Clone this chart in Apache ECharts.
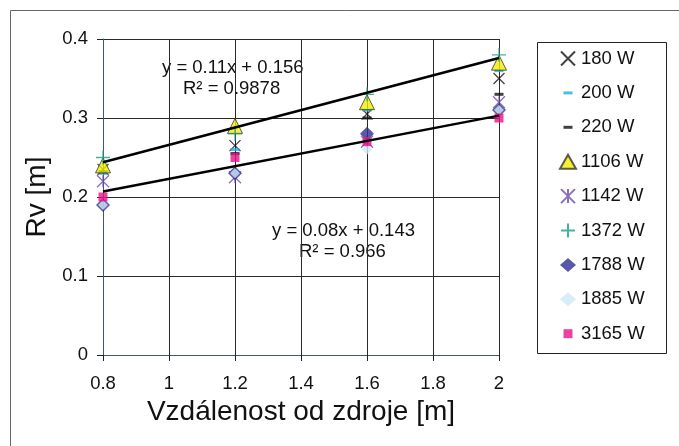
<!DOCTYPE html>
<html>
<head>
<meta charset="utf-8">
<script src="https://cdn.jsdelivr.net/npm/echarts@6/dist/echarts.min.js"></script>
<style>
  html, body { margin: 0; padding: 0; background: #fff; }
  #chart { width: 679px; height: 446px; }
</style>
</head>
<body>
<div id="chart"></div>
<script>
// distances [m]
const xValues = [0.8, 1.2, 1.6, 2]

// Rv [m] per power setting
const w180 = [0.235, 0.265, 0.305, 0.35]
const w200 = [0.23, 0.26, 0.31, 0.36]
const w220 = [0.232, 0.255, 0.30, 0.33]
const w1106 = [0.24, 0.29, 0.32, 0.37]
const w1142 = [0.22, 0.225, 0.27, 0.32]
const w1372 = [0.25, 0.28, 0.33, 0.38]
const w1788 = [0.19, 0.23, 0.28, 0.31]
const w1885 = [0.19, 0.23, 0.26, 0.31]
const w3165 = [0.20, 0.25, 0.27, 0.30]

// trendline end points (from the fitted equations)
const trendX = [0.8, 2]
const trendUpper = [0.244, 0.376]
const trendLower = [0.207, 0.303]

const xTicks = ['0.8', '1', '1.2', '1.4', '1.6', '1.8', '2']
const yTicks = ['0', '0.1', '0.2', '0.3', '0.4']

const font = "'Liberation Sans', Arial, sans-serif"
// small shapes inside a bigger box so the legend icon keeps their size
const dashPath = 'path://M0,0M16,14M3.5,5.5L12.5,5.5L12.5,8.5L3.5,8.5Z'
const squarePath = 'path://M0,0M14,14M2.5,2.5L11.5,2.5L11.5,11.5L2.5,11.5Z'

function pts (ys) {
  return xValues.map((x, i) => [x, ys[i]])
}

function lineSym (name, data, path, color, size, width) {
  return {
    name: name,
    type: 'scatter',
    data: pts(data),
    symbol: path,
    symbolSize: size,
    itemStyle: {color: 'transparent', borderColor: color, borderWidth: width}
  }
}

const chart = echarts.init(document.getElementById('chart'))

const option = {
  animation: false,
  grid: {left: 103, right: 180, top: 39, bottom: 91},
  xAxis: {
    type: 'value',
    min: 0.8,
    max: 2,
    interval: 0.2,
    name: 'Vzdálenost od zdroje [m]',
    nameLocation: 'middle',
    nameGap: 40,
    nameTextStyle: {fontFamily: font, fontSize: 28, color: '#111'},
    axisLine: {show: true, lineStyle: {color: '#3e5b66', width: 1}},
    axisTick: {show: true, length: 6, lineStyle: {color: '#222'}},
    axisLabel: {
      fontFamily: font, fontSize: 18.5, color: '#111', margin: 19,
      formatter: v => xTicks[Math.round((v - 0.8) / 0.2)]
    },
    splitLine: {show: true, lineStyle: {color: '#2a2a2a', width: 1}}
  },
  yAxis: {
    type: 'value',
    min: 0,
    max: 0.4,
    interval: 0.1,
    name: 'Rv [m]',
    nameLocation: 'middle',
    nameGap: 43,
    nameTextStyle: {fontFamily: font, fontSize: 28, color: '#111'},
    axisLine: {show: true, lineStyle: {color: '#3e5b66', width: 1}},
    axisTick: {show: true, length: 6, lineStyle: {color: '#222'}},
    axisLabel: {
      fontFamily: font, fontSize: 18.5, color: '#111', margin: 15,
      formatter: v => yTicks[Math.round(v / 0.1)]
    },
    splitLine: {show: true, lineStyle: {color: '#2a2a2a', width: 1}}
  },
  legend: {
    orient: 'vertical',
    left: 559,
    top: 49,
    padding: 0,
    itemWidth: 16,
    itemHeight: 14,
    itemGap: 15.4,
    textStyle: {fontFamily: font, fontSize: 18.5, color: '#111', lineHeight: 18},
    data: ['180 W', '200 W', '220 W', '1106 W', '1142 W', '1372 W', '1788 W', '1885 W', '3165 W']
  },
  graphic: [
    {type: 'rect', shape: {x: 10.5, y: 10.5, width: 720, height: 500}, style: {fill: 'none', stroke: '#666', lineWidth: 1}, silent: true},
    {type: 'rect', shape: {x: 537.5, y: 42.5, width: 129, height: 311}, style: {fill: '#fff', stroke: '#222', lineWidth: 1}, z: -1, silent: true},
    {type: 'text', left: 162, top: 58, style: {text: 'y = 0.11x + 0.156', font: '18.5px ' + font, fill: '#111'}},
    {type: 'text', left: 183, top: 79, style: {text: 'R² = 0.9878', font: '18.5px ' + font, fill: '#111'}},
    {type: 'text', left: 272, top: 221, style: {text: 'y = 0.08x + 0.143', font: '18.5px ' + font, fill: '#111'}},
    {type: 'text', left: 299, top: 242, style: {text: 'R² = 0.966', font: '18.5px ' + font, fill: '#111'}}
  ],
  series: [
    {
      name: 'trend1', type: 'line', data: trendX.map((x, i) => [x, trendUpper[i]]),
      showSymbol: false, lineStyle: {color: '#000', width: 2.5}, z: 3
    },
    {
      name: 'trend2', type: 'line', data: trendX.map((x, i) => [x, trendLower[i]]),
      showSymbol: false, lineStyle: {color: '#000', width: 2.5}, z: 3
    },
    lineSym('180 W', w180, 'path://M0,0L10,10M10,0L0,10', '#111', 11, 1.3),
    {name: '200 W', type: 'scatter', data: pts(w200), symbol: dashPath, symbolSize: [16, 14], itemStyle: {color: '#1eaee6'}},
    {name: '220 W', type: 'scatter', data: pts(w220), symbol: dashPath, symbolSize: [16, 14], itemStyle: {color: '#111'}},
    {name: '1106 W', type: 'scatter', data: pts(w1106), symbol: 'triangle', symbolSize: 15, itemStyle: {color: '#f3ec00', borderColor: '#333', borderWidth: 1}},
    lineSym('1142 W', w1142, 'path://M0,0L10,10M10,0L0,10M5,0L5,10', '#6a4cae', 12, 1.3),
    lineSym('1372 W', w1372, 'path://M6,0L6,12M0,6L12,6', '#1a9e86', 14, 1.3),
    {name: '1788 W', type: 'scatter', data: pts(w1788), symbol: 'diamond', symbolSize: 14, itemStyle: {color: '#2e3192'}},
    {name: '1885 W', type: 'scatter', data: pts(w1885), symbol: 'diamond', symbolSize: 10, itemStyle: {color: '#cfe9f8'}},
    {name: '3165 W', type: 'scatter', data: pts(w3165), symbol: squarePath, symbolSize: 14, itemStyle: {color: '#e8118a'}}
  ]
}

chart.setOption(option)
</script>
</body>
</html>
